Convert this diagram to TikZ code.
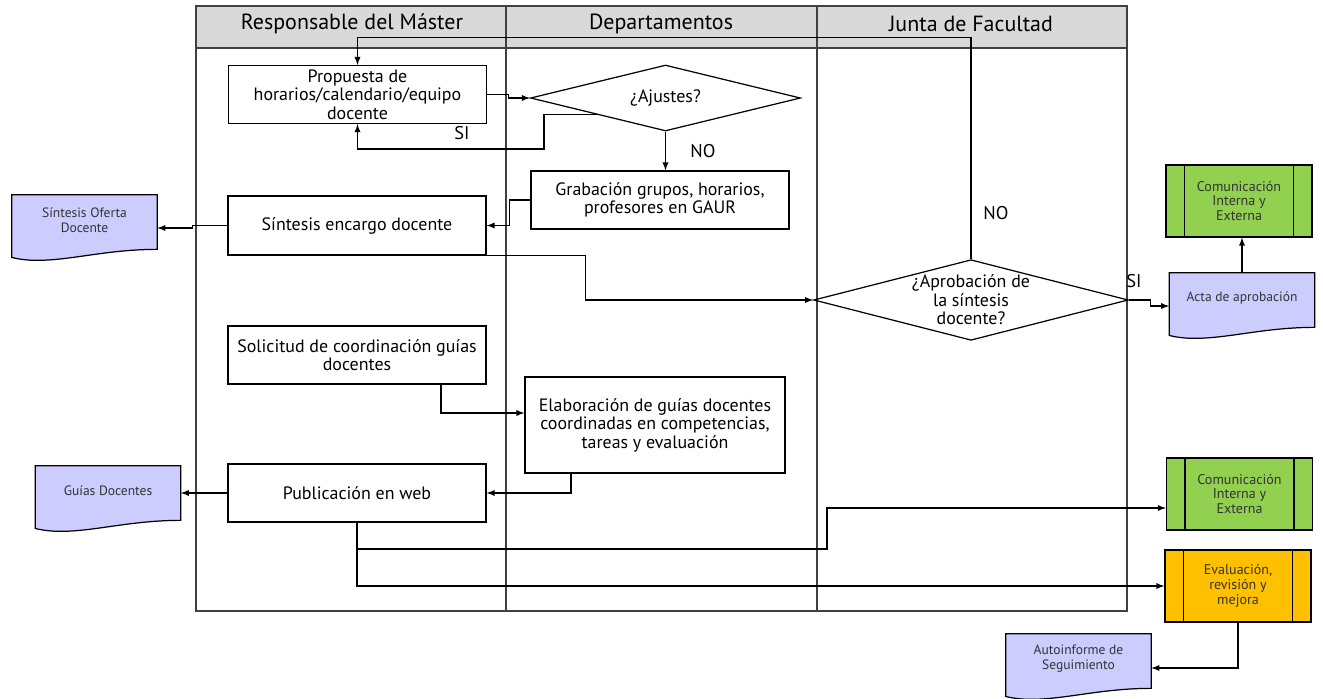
\documentclass[tikz,border=0pt]{standalone}
\usepackage{fontspec}
\setmainfont{PT Sans}
\usetikzlibrary{shapes.geometric,arrows,positioning,backgrounds}

\definecolor{lanegray}{HTML}{D9D9D9}
\definecolor{docblue}{HTML}{CCCCFF}
\definecolor{comgreen}{HTML}{92D050}
\definecolor{evalorange}{HTML}{FFC000}

\tikzset{
  lanehead/.style={font=\fontsize{12.5}{14}\selectfont},
  task/.style={draw, line width=0.7pt, minimum width=5.16cm, minimum height=1.16cm, align=center, inner sep=1pt, font=\fontsize{10.2}{10.6}\selectfont},
  decision/.style={draw, line width=0.7pt, diamond, aspect=4, inner sep=0pt, align=center, font=\fontsize{10.2}{10.6}\selectfont},
  docu/.style={minimum width=2.9cm, minimum height=1cm, align=center, inner sep=1pt, text=black!80, font=\fontsize{7.7}{8.5}\selectfont},
  predef/.style={draw, line width=0.7pt, fill=#1, minimum width=2.92cm, minimum height=1.44cm, align=center, inner sep=1pt, text=black!80, font=\fontsize{8}{8.4}\selectfont,
    path picture={
      \draw ([xshift=0.37cm]path picture bounding box.north west) -- ([xshift=0.37cm]path picture bounding box.south west);
      \draw ([xshift=-0.37cm]path picture bounding box.north east) -- ([xshift=-0.37cm]path picture bounding box.south east);
    }},
  flow/.style={-latex, line width=0.6pt},
  answer/.style={font=\fontsize{10.5}{12}\selectfont}
}

\begin{document}
\begin{tikzpicture}[x=0.02cm, y=-0.02cm]
\useasboundingbox (0,0) rectangle (1323,698);

% swimlanes
\fill[lanegray] (196,6) rectangle (1127,48);
\draw[line width=0.6pt, black!75] (196,6) rectangle (1127,611);
\draw[line width=0.6pt, black!75] (196,48) -- (1127,48);
\foreach \x in {506,817} {
\draw[line width=0.6pt, black!75] (\x,6) -- (\x,611);
}
\node[lanehead] (hresp) at (352,24) {Responsable del Máster};
\node[lanehead] (hdep) at (661,24) {Departamentos};
\node[lanehead] (hjunta) at (971,24) {Junta de Facultad};

% tasks
\node[task] (prop) at (357.5,94.5) {Propuesta de\\horarios/calendario/equipo\\docente};
\node[decision, minimum width=5.4cm, minimum height=1.32cm] (ajustes) at (665.5,98) {¿Ajustes?};
\node[task] (grab) at (660,200) {Grabación grupos, horarios,\\profesores en GAUR};
\node[task, minimum height=1.18cm] (sint) at (357,225.5) {Síntesis encargo docente};
\node[decision, aspect=3.9, minimum width=6.2cm, minimum height=1.56cm] (aprob) at (971,300) {¿Aprobación de\\la síntesis\\docente?};
\node[task] (sol) at (357,355) {Solicitud de coordinación guías\\docentes};
\node[task, minimum width=5.2cm, minimum height=1.92cm] (elab) at (655,425) {Elaboración de guías docentes\\coordinadas en competencias,\\tareas y evaluación};
\node[task] (pub) at (357,493) {Publicación en web};

% documents and processes outside the lanes
\node[docu] (sod) at (84.5,220) {Síntesis Oferta\\Docente};
\node[docu] (gd) at (108,491) {Guías Docentes};
\node[docu] (acta) at (1242,298) {Acta de aprobación};
\node[docu] (auto) at (1078.5,659) {Autoinforme de\\Seguimiento};
\node[predef=comgreen] (com1) at (1239,201) {Comunicación\\Interna y\\Externa};
\node[predef=comgreen] (com2) at (1239.5,494) {Comunicación\\Interna y\\Externa};
\node[predef=evalorange] (eval) at (1238,586) {Evaluación,\\revisión y\\mejora};

\begin{scope}[on background layer]
\foreach \d in {sod,gd,acta,auto} {
\draw[line width=0.7pt, fill=docblue] (\d.north west) -- (\d.north east) -- ([yshift=-0.08cm]\d.south east)
  .. controls +(-1cm,0) and +(0.7cm,0) .. ([xshift=0.5cm,yshift=-0.3cm]\d.south west)
  .. controls +(-0.2cm,0) and +(0.1cm,-0.03cm) .. ([yshift=-0.24cm]\d.south west) -- cycle;
}
\end{scope}

% connectors
\coordinate (siturn) at (544,149);
\coordinate (webturn) at (827,549);
\draw[flow] (prop.east) -- ++(21,0) |- (ajustes.west);
\draw[flow] (ajustes.south west) -| (siturn) -| (prop.south);
\node[answer] (si1) at (462,133) {SI};
\draw[flow] (ajustes.south) -- (ajustes.south |- grab.north);
\node[answer] (no1) at (703,151) {NO};
\draw[flow] (grab.west) -- ++(-21,0) |- (sint.east);
\draw[flow] (sint.west) -- ++(-35,0) |- ([yshift=-0.16cm]sod.east);
\draw[flow] (sint.south east) -- ++(99,0) |- (aprob.west);
\draw[flow] (aprob.north) -- ++(0,-222) -| (prop.north);
\node[answer] (no2) at (996,213) {NO};
\draw[flow] (aprob.east) -- ++(22,0) |- ([yshift=-0.16cm]acta.west);
\node[answer] (si2) at (1134,281) {SI};
\draw[flow] (acta.north) -- (acta.north |- com1.south);
\draw[flow] ([xshift=1.68cm]sol.south) |- ([yshift=0.24cm]elab.west);
\draw[flow] ([xshift=-1.68cm]elab.south) |- (pub.east);
\draw[flow] (pub.west) -- (pub.west -| gd.east);
\draw[flow] (pub.south) |- (webturn) |- ([yshift=-0.28cm]com2.west);
\draw[flow] (pub.south) |- (eval.west);
\draw[flow] (eval.south) |- ([yshift=-0.18cm]auto.east);
\end{tikzpicture}
\end{document}
